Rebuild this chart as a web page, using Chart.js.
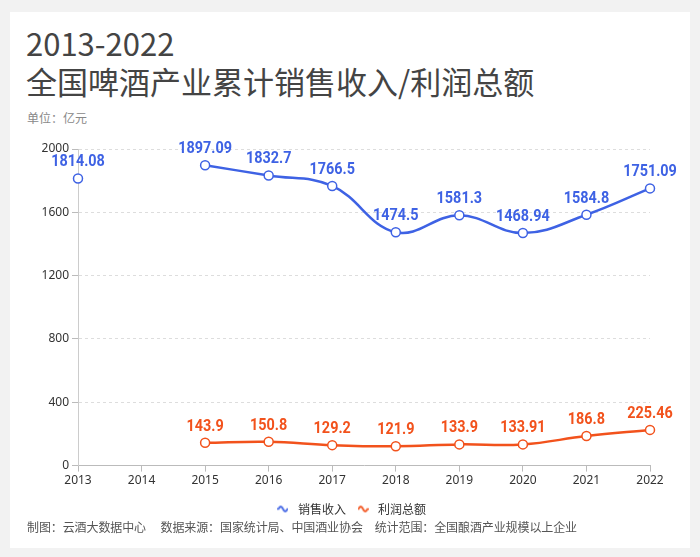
<!DOCTYPE html>
<html lang="zh">
<head>
<meta charset="UTF-8" />
<title>2013-2022 全国啤酒产业累计销售收入/利润总额</title>
<script src="https://cdn.jsdelivr.net/npm/chart.js"></script>
<style>
  html, body { margin: 0; padding: 0; }
  body { width: 700px; height: 557px; background: #f2f2f2; font-family: "Noto Sans CJK SC", "Noto Sans", sans-serif; position: relative; overflow: hidden; }
  .card { position: absolute; left: 10px; top: 12px; width: 680px; height: 536px; background: #fff; }
  .title { position: absolute; left: 16px; top: 12px; color: #444; font-size: 31px; line-height: 38px; }
  .unit { position: absolute; left: 17px; top: 97px; font-size: 12px; color: #888; }
  .chart { position: absolute; left: 0; top: 123px; width: 680px; height: 390px; }
  .foot { position: absolute; left: 17px; top: 506px; font-size: 12px; color: #555; white-space: pre; letter-spacing: -0.1px; }
</style>
</head>
<body>
<div class="card">
  <div class="title">2013-2022<br>全国啤酒产业累计销售收入/利润总额</div>
  <div class="unit">单位：亿元</div>
  <div class="chart"><canvas id="c"></canvas></div>
  <div class="foot">制图：云酒大数据中心　 数据来源：国家统计局、中国酒业协会　统计范围：全国酿酒产业规模以上企业</div>
</div>
<script>
const years = ["2013", "2014", "2015", "2016", "2017", "2018", "2019", "2020", "2021", "2022"];
const revenue = [1814.08, null, 1897.09, 1832.7, 1766.5, 1474.5, 1581.3, 1468.94, 1584.8, 1751.09];
const profit = [null, null, 143.9, 150.8, 129.2, 121.9, 133.9, 133.91, 186.8, 225.46];
const yTicks = [0, 400, 800, 1200, 1600, 2000];

const blue = "#3e62e4";
const orange = "#f2521c";

// little wavy line used as legend marker
function wave(color) {
  const cv = document.createElement("canvas");
  cv.width = 11; cv.height = 9;
  const g = cv.getContext("2d");
  g.strokeStyle = color; g.lineWidth = 1.8; g.lineCap = "round";
  g.beginPath();
  for (let x = 1; x <= 10; x += 0.5) {
    const y = 4.5 - 2.5 * Math.sin((x - 1) / 9 * Math.PI * 2);
    x === 1 ? g.moveTo(x, y) : g.lineTo(x, y);
  }
  g.stroke();
  return cv;
}

const valueLabels = {
  id: "valueLabels",
  afterDatasetsDraw(chart) {
    const ctx = chart.ctx;
    chart.data.datasets.forEach((ds, i) => {
      const meta = chart.getDatasetMeta(i);
      meta.data.forEach((pt, j) => {
        const v = ds.data[j];
        if (v === null || v === undefined) return;
        ctx.save();
        ctx.font = "bold 16px Roboto, sans-serif";
        ctx.textAlign = "center";
        ctx.textBaseline = "alphabetic";
        ctx.fillStyle = ds.borderColor;
        ctx.translate(pt.x, pt.y - 12);
        ctx.scale(0.9, 1);
        ctx.fillText(String(v), 0, 0);
        ctx.restore();
      });
    });
  }
};

new Chart(document.getElementById("c"), {
  type: "line",
  data: {
    labels: years,
    datasets: [
      {
        label: "销售收入",
        data: revenue,
        borderColor: blue,
        backgroundColor: blue,
        borderWidth: 2.5,
        tension: 0.4,
        pointRadius: 4.5,
        pointBorderWidth: 1.5,
        pointBackgroundColor: "#fff",
        pointBorderColor: blue
      },
      {
        label: "利润总额",
        data: profit,
        borderColor: orange,
        backgroundColor: orange,
        borderWidth: 2.5,
        tension: 0.4,
        pointRadius: 4.5,
        pointBorderWidth: 1.5,
        pointBackgroundColor: "#fff",
        pointBorderColor: orange
      }
    ]
  },
  options: {
    responsive: true,
    maintainAspectRatio: false,
    animation: false,
    layout: { padding: { left: 0, right: 0, top: 14, bottom: 0 } },
    plugins: {
      legend: {
        position: "bottom",
        labels: {
          usePointStyle: true,
          pointStyleWidth: 18,
          color: "#333",
          font: { size: 12, family: "'Noto Sans CJK SC', sans-serif" },
          padding: 8,
          generateLabels(chart) {
            return chart.data.datasets.map((ds, i) => ({
              text: ds.label,
              pointStyle: wave(ds.borderColor),
              fillStyle: ds.borderColor,
              strokeStyle: ds.borderColor,
              lineWidth: 0,
              fontColor: "#333",
              datasetIndex: i,
              hidden: !chart.isDatasetVisible(i)
            }));
          }
        }
      },
      tooltip: { enabled: false }
    },
    scales: {
      x: {
        offset: false,
        afterFit(s) { s.height += 5; },
        border: { color: "#bbb", width: 1 },
        grid: { drawOnChartArea: false, drawTicks: true, tickLength: 6, tickColor: "#bbb" },
        ticks: { color: "#333", font: { size: 12, family: "'Noto Sans', sans-serif" }, padding: 2, maxRotation: 0 }
      },
      y: {
        min: 0,
        max: 2000,
        afterBuildTicks(s) { s.ticks = yTicks.map(v => ({ value: v })); },
        afterFit(s) { s.width = 68; },
        border: { color: "#ccc", width: 1, dash: [3, 3] },
        grid: { color: "#ddd", tickLength: 6, tickColor: "#bbb", tickBorderDash: [] },
        ticks: { color: "#333", font: { size: 12, family: "'Noto Sans', sans-serif" }, padding: 3, callback: v => String(v) }
      },
      // empty right-hand axis that only reserves the right margin, so the legend stays centred
      spacer: {
        type: "linear",
        position: "right",
        min: 0,
        max: 1,
        afterFit(s) { s.width = 40; },
        grid: { display: false },
        border: { display: false },
        ticks: { display: false }
      }
    }
  },
  plugins: [valueLabels]
});
</script>
</body>
</html>
